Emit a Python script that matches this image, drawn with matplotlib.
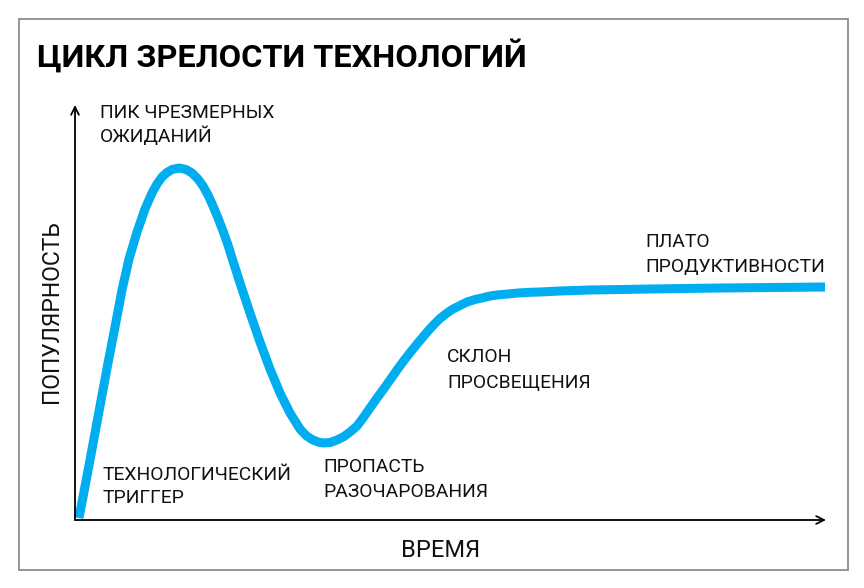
import matplotlib.pyplot as plt
from matplotlib.patches import Rectangle

plt.rcParams['font.family'] = ['Roboto', 'DejaVu Sans']

# кривая: время и популярность в условных единицах
vremya = [4, 15, 25, 33, 40, 47, 54, 62, 70, 77,
          82, 87, 92, 97, 104, 111, 117, 123, 128, 133,
          138, 143, 148, 153, 157, 165, 175, 185, 195, 205,
          215, 225, 231, 237, 243, 248, 255, 262, 269, 275,
          282, 288, 295, 302, 309, 315, 322, 329, 336, 342,
          348, 353, 359, 365, 372, 378, 385, 392, 400, 407,
          415, 422, 433, 443, 455, 465, 485, 515, 575, 645,
          750]
populyarnost = [2, 60, 114, 157, 193, 230, 261, 288, 311, 327,
                336, 343, 347.5, 350.5, 352, 350.5, 347, 341, 334, 325,
                314, 302, 289, 275, 262, 237, 207, 178, 151, 127,
                107, 91, 84.5, 80.5, 78, 77, 77.5, 80, 83.5, 88,
                94, 102, 112, 122, 131.5, 140, 150, 159.5, 168.5, 176,
                183, 189, 195.5, 201.5, 207, 211, 214.5, 218, 220.5, 222,
                224, 225, 226, 227, 227.7, 228, 229, 230, 231, 232,
                233]

zagolovok = "ЦИКЛ ЗРЕЛОСТИ ТЕХНОЛОГИЙ"
podpisi = [
    ("ПИК ЧРЕЗМЕРНЫХ", "ОЖИДАНИЙ"),
    ("ТЕХНОЛОГИЧЕСКИЙ", "ТРИГГЕР"),
    ("ПРОПАСТЬ", "РАЗОЧАРОВАНИЯ"),
    ("СКЛОН", "ПРОСВЕЩЕНИЯ"),
    ("ПЛАТО", "ПРОДУКТИВНОСТИ"),
]
# положение подписей в пикселях: x, базовая линия 1-й и 2-й строки
pozicii = [(100, 118, 142), (103, 480, 503), (323, 472, 497),
           (447, 362, 388), (645, 247, 272)]

W, H = 864, 588
fig = plt.figure(figsize=(W / 100, H / 100), dpi=100)


def fx(x):
    return x / W


def fy(y):
    return 1 - y / H


# рамка
fig.patches.append(Rectangle((fx(19), fy(570)), fx(848) - fx(19), fy(19) - fy(570),
                             transform=fig.transFigure, fill=False,
                             ec='#8c8c8c', lw=1.3))

ax = fig.add_axes([fx(75), fy(520), fx(826) - fx(75), fy(105) - fy(520)])
ax.set_xlim(0, 751)
ax.set_ylim(0, 415)
ax.axis('off')

ax.plot(vremya, populyarnost, color='#00aeef', lw=6.5,
        solid_capstyle='butt', solid_joinstyle='round', clip_on=False)

# оси со стрелками
for tip in [(1, 0), (0, 1)]:
    ax.annotate('', xy=tip, xytext=(0, 0), xycoords='axes fraction',
                arrowprops=dict(arrowstyle='->', lw=1.3, color='black',
                                shrinkA=0, shrinkB=0, mutation_scale=14))

fig.text(fx(37), fy(67), zagolovok, fontsize=23.4, fontweight='bold',
         color='black', va='baseline', ha='left')

for (l1, l2), (x, y1, y2) in zip(podpisi, pozicii):
    fig.text(fx(x), fy(y1), l1, fontsize=13.9, color='#111111', va='baseline')
    fig.text(fx(x), fy(y2), l2, fontsize=13.9, color='#111111', va='baseline')

fig.text(fx(441), fy(557), "ВРЕМЯ", fontsize=17, color='#111111',
         ha='center', va='baseline')
fig.text(fx(52), fy(312), "ПОПУЛЯРНОСТЬ", fontsize=16.5, color='#111111',
         rotation=90, ha='center', va='center')

plt.savefig("out.png", dpi=100)
